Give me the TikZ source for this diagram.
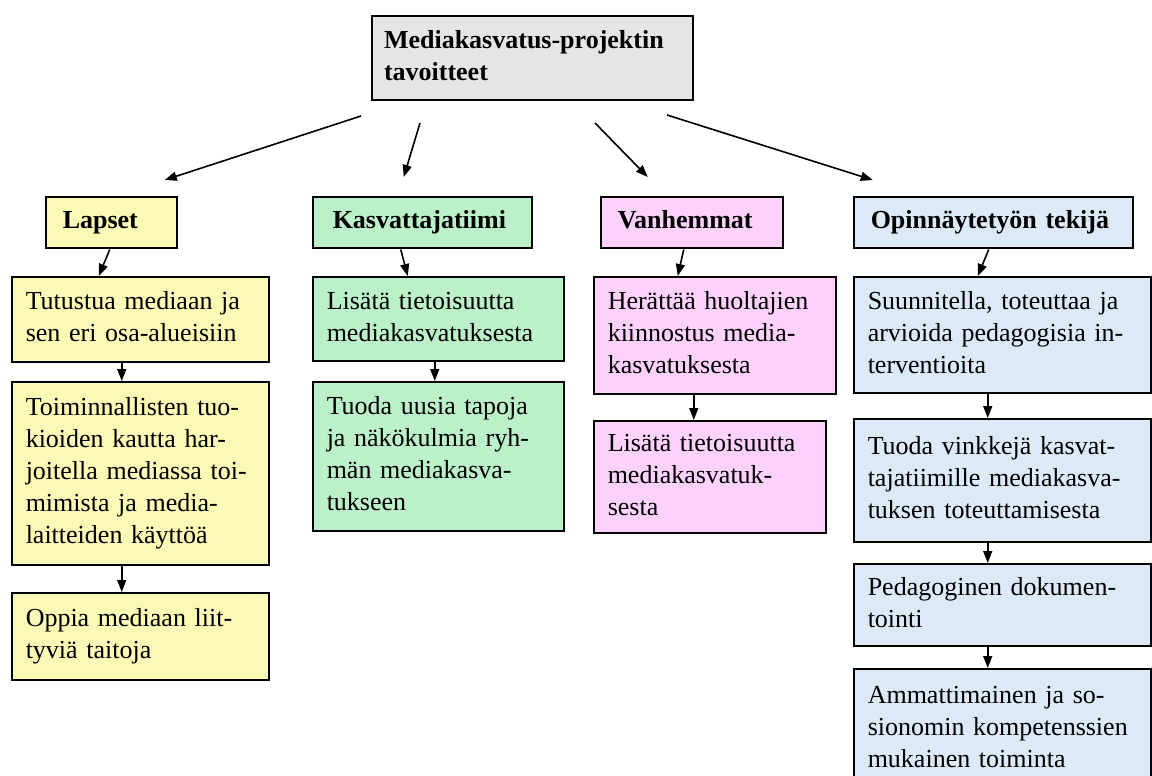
\documentclass[tikz,border=0pt]{standalone}
\usepackage{fontspec}
\setmainfont{Liberation Serif}
\usepackage{xcolor}
\usetikzlibrary{arrows.meta, calc}

\definecolor{titlegray}{RGB}{229,229,229}
\definecolor{lapsetyellow}{RGB}{250,250,182}
\definecolor{kasvgreen}{RGB}{188,240,200}
\definecolor{vanhpink}{RGB}{252,210,252}
\definecolor{opinblue}{RGB}{220,233,246}

\begin{document}
\begin{tikzpicture}[
    x=0.5pt, y=-0.5pt,
    box/.style={rectangle, draw, line width=0.75pt, anchor=north west, inner xsep=7pt, inner ysep=0pt, align=left, font=\fontsize{13}{16}\selectfont, execute at begin node=\strut, execute at end node=\strut},
    head/.style={box, inner xsep=8.5pt, font=\fontsize{13}{16}\selectfont\bfseries},
    arrow/.style={-{Triangle[length=6pt,width=4.5pt]}, line width=0.8pt},
]
    \useasboundingbox (0,0) rectangle (1152,776);

    % Row 1: Title
    \node[head, fill=titlegray, line width=1pt, inner xsep=6pt, text width=148.5pt, minimum height=42pt] (title) at (371,15) {Mediakasvatus-projektin\\tavoitteet};

    % Row 2: Target groups
    \node[head, fill=lapsetyellow, text width=48.5pt, minimum height=25.5pt] (lapset) at (45,196) {Lapset};
    \node[head, fill=kasvgreen, inner xsep=10pt, text width=89.5pt, minimum height=25.5pt] (kasv) at (312,196) {Kasvattajatiimi};
    \node[head, fill=vanhpink, text width=74pt, minimum height=25.5pt] (vanh) at (600,196) {Vanhemmat};
    \node[head, fill=opinblue, text width=122.5pt, minimum height=25.5pt] (opin) at (853,196) {Opinnäytetyön tekijä};

    % Column 1: Lapset
    \node[box, fill=lapsetyellow, text width=114.5pt, minimum height=42.5pt] (l1) at (11,276) {Tutustua mediaan ja\\sen eri osa-alueisiin};
    \node[box, fill=lapsetyellow, text width=114.5pt, minimum height=91.5pt] (l2) at (11,381) {Toiminnallisten tuo-\\kioiden kautta har-\\joitella mediassa toi-\\mimista ja media-\\laitteiden käyttöä};
    \node[box, fill=lapsetyellow, text width=114.5pt, minimum height=43.5pt] (l3) at (11,592) {Oppia mediaan liit-\\tyviä taitoja};

    % Column 2: Kasvattajatiimi
    \node[box, fill=kasvgreen, text width=111.5pt, minimum height=42pt] (k1) at (312,276) {Lisätä tietoisuutta\\mediakasvatuksesta};
    \node[box, fill=kasvgreen, text width=111.5pt, minimum height=74.5pt] (k2) at (312,381) {Tuoda uusia tapoja\\ja näkökulmia ryh-\\män mediakasva-\\tukseen};

    % Column 3: Vanhemmat
    \node[box, fill=vanhpink, text width=107pt, minimum height=58.5pt] (v1) at (593,276) {Herättää huoltajien\\kiinnostus media-\\kasvatuksesta};
    \node[box, fill=vanhpink, text width=102pt, minimum height=56pt] (v2) at (593,420) {Lisätä tietoisuutta\\mediakasvatuk-\\sesta};

    % Column 4: Opinnäytetyön tekijä
    \node[box, fill=opinblue, text width=134.5pt, minimum height=58pt] (o1) at (853,276) {Suunnitella, toteuttaa ja\\arvioida pedagogisia in-\\terventioita};
    \node[box, fill=opinblue, text width=134.5pt, minimum height=61.5pt] (o2) at (853,418) {Tuoda vinkkejä kasvat-\\tajatiimille mediakasva-\\tuksen toteuttamisesta};
    \node[box, fill=opinblue, text width=134.5pt, minimum height=41pt] (o3) at (853,563) {Pedagoginen dokumen-\\tointi};
    \node[box, fill=opinblue, text width=134.5pt, minimum height=60pt] (o4) at (853,668) {Ammattimainen ja so-\\sionomin kompetenssien\\mukainen toiminta};

    % Arrows from title
    \draw[arrow] ($(title.south west)+(-10,15)$) -- ($(lapset.north)+(53.5,-16)$);
    \draw[arrow] ($(title.south west)+(49,22)$) -- ($(kasv.north)+(-18.5,-19)$);
    \draw[arrow] ($(title.south east)+(-99,22)$) -- ($(vanh.north)+(-44,-19)$);
    \draw[arrow] ($(title.south east)+(-27,14)$) -- ($(opin.north)+(-120.5,-16)$);

    % Arrows from headers
    \draw[arrow] ($(lapset.south)+(-1.5,1)$) -- ($(l1.north)+(-41.5,0)$);
    \draw[arrow] ($(kasv.south)+(-21.5,1)$) -- ($(k1.north)+(-30.5,0)$);
    \draw[arrow] ($(vanh.south)+(-8,1)$) -- ($(v1.north)+(-37,0)$);
    \draw[arrow] ($(opin.south)+(-4.5,1)$) -- ($(o1.north)+(-24.5,0)$);

    % Arrows inside columns
    \draw[arrow] ($(l1.south)+(-18.5,0)$) -- ($(l2.north)+(-18.5,0)$);
    \draw[arrow] ($(l2.south)+(-18.5,0)$) -- ($(l3.north)+(-18.5,0)$);
    \draw[arrow] ($(k1.south)+(-3.5,0)$) -- ($(k2.north)+(-3.5,0)$);
    \draw[arrow] ($(v1.south)+(-21,0)$) -- ($(v2.north)+(-16,0)$);
    \draw[arrow] ($(o1.south)+(-14.5,0)$) -- ($(o2.north)+(-14.5,0)$);
    \draw[arrow] ($(o2.south)+(-14.5,0)$) -- ($(o3.north)+(-14.5,0)$);
    \draw[arrow] ($(o3.south)+(-14.5,0)$) -- ($(o4.north)+(-14.5,0)$);
\end{tikzpicture}
\end{document}
